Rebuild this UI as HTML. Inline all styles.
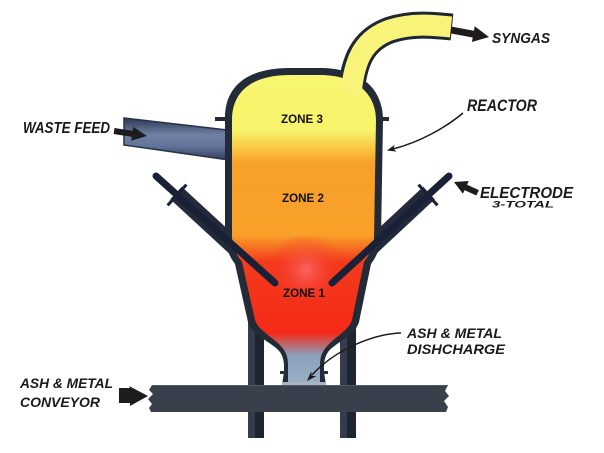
<!DOCTYPE html>
<html>
<head>
<meta charset="utf-8">
<style>
  html,body{margin:0;padding:0;background:#ffffff;}
  svg{display:block;}
  .lbl{font-family:"Liberation Sans",sans-serif;font-weight:bold;font-style:italic;fill:#1a1a1a;}
  .zone{font-family:"Liberation Sans",sans-serif;font-weight:bold;fill:#111111;font-size:12px;}
</style>
</head>
<body>
<svg width="604" height="453" viewBox="0 0 604 453" xmlns="http://www.w3.org/2000/svg">
  <defs>
    <linearGradient id="fillG" gradientUnits="userSpaceOnUse" x1="0" y1="75" x2="0" y2="385">
      <stop offset="0" stop-color="#f8f66e"/>
      <stop offset="0.177" stop-color="#f8f46c"/>
      <stop offset="0.242" stop-color="#f9c23e"/>
      <stop offset="0.285" stop-color="#f7a02a"/>
      <stop offset="0.516" stop-color="#f8a028"/>
      <stop offset="0.603" stop-color="#f43a1c"/>
      <stop offset="0.832" stop-color="#f42a18"/>
      <stop offset="0.905" stop-color="#8aa0bb"/>
      <stop offset="1" stop-color="#9cb1c7"/>
    </linearGradient>
    <radialGradient id="glow" gradientUnits="userSpaceOnUse" cx="306" cy="270" r="38">
      <stop offset="0" stop-color="#f86a66" stop-opacity="0.9"/>
      <stop offset="1" stop-color="#f42a18" stop-opacity="0"/>
    </radialGradient>
    <linearGradient id="pipeG" x1="0" y1="0" x2="0" y2="1">
      <stop offset="0" stop-color="#2c3856"/>
      <stop offset="0.4" stop-color="#7282a4"/>
      <stop offset="0.65" stop-color="#63739a"/>
      <stop offset="1" stop-color="#2f3b58"/>
    </linearGradient>
  </defs>

  <!-- legs -->
  <rect x="248" y="300" width="16" height="138" fill="#1f2431"/>
  <rect x="248" y="300" width="7" height="138" fill="#353c4c"/>
  <rect x="340" y="300" width="16" height="138" fill="#1f2431"/>
  <rect x="340" y="300" width="7" height="138" fill="#353c4c"/>

  <!-- waste feed pipe -->
  <polygon points="124,118 236,131 236,161 124,145" fill="url(#pipeG)" stroke="#26304a" stroke-width="1.5"/>

  <!-- electrode arm bands -->
  <line x1="176" y1="193" x2="252" y2="263" stroke="#232a3b" stroke-width="17"/>
  <line x1="429" y1="193" x2="354" y2="263" stroke="#232a3b" stroke-width="17"/>

  <!-- syngas pipe outline -->
  <path d="M 351 92 C 354 62, 362 40, 390 30 C 412 23, 432 25, 452 27" fill="none" stroke="#1f2634" stroke-width="27"/>

  <!-- reactor outer shell -->
  <path d="M 225 120 C 224 88, 245 68, 290 68 L 320 68 C 360 68, 383 88, 383 120 L 381 238 Q 380 252, 371 264 L 359 322 C 355 336, 336 342, 328 352 Q 324 358, 324 366 L 324 372 L 326 385 L 282 385 L 284 372 L 284 366 Q 284 358, 280 352 C 272 342, 252 336, 248 322 L 235 264 Q 226 252, 225 238 Z" fill="#232a38"/>
  <!-- flange ticks -->
  <rect x="215" y="117" width="12" height="4" fill="#232a38"/>
  <rect x="380" y="117" width="9" height="4" fill="#232a38"/>

  <!-- reactor inner fill -->
  <path d="M 232 120 C 232 93, 250 75, 290 75 L 320 75 C 355 75, 376 93, 376 120 L 374 238 Q 373 250, 364 262 L 352 320 C 348 332, 332 338, 324 350 Q 320 356, 320 364 L 320 385 L 288 385 L 288 364 Q 288 356, 284 350 C 276 338, 259 332, 255 320 L 242 262 Q 233 250, 232 238 Z" fill="url(#fillG)"/>
  <ellipse cx="306" cy="270" rx="40" ry="34" fill="url(#glow)"/>

  <!-- syngas pipe fill -->
  <path d="M 351 94 C 354 62, 362 40, 390 30 C 412 23, 432 25, 451 27" fill="none" stroke="#f8f47a" stroke-width="21"/>

  <!-- neck flange -->
  <rect x="280" y="371" width="6" height="3" fill="#2a3242"/>
  <rect x="322" y="371" width="6" height="3" fill="#2a3242"/>
  <rect x="282" y="382" width="44" height="3" fill="#aab5c3"/>

  <!-- electrodes -->
  <line x1="156" y1="176" x2="275" y2="283" stroke="#1a2136" stroke-width="7" stroke-linecap="round"/>
  <line x1="449" y1="176" x2="332" y2="283" stroke="#1a2136" stroke-width="7" stroke-linecap="round"/>
  <line x1="167.6" y1="205.4" x2="186.4" y2="184.6" stroke="#1a2136" stroke-width="3"/>
  <line x1="437.5" y1="205.3" x2="418.5" y2="184.7" stroke="#1a2136" stroke-width="3"/>

  <!-- conveyor -->
  <polygon points="152,385 448,385 445,391 449,396 444,401 448,407 446,412 151,412 149,408 152,404 148,399 153,394 149,390" fill="#393f4b"/>
  <line x1="152" y1="385.5" x2="448" y2="385.5" stroke="#515867" stroke-width="1"/>

  <!-- zone labels -->
  <text class="zone" x="302" y="123" text-anchor="middle" textLength="42" lengthAdjust="spacingAndGlyphs">ZONE 3</text>
  <text class="zone" x="303" y="202" text-anchor="middle" textLength="42" lengthAdjust="spacingAndGlyphs">ZONE 2</text>
  <text class="zone" x="304" y="297" text-anchor="middle" textLength="42" lengthAdjust="spacingAndGlyphs">ZONE 1</text>

  <!-- arrows -->
  <polygon points="489,37 474.7,26.2 473.9,30.7 451.6,26.6 450.4,33.4 472.7,37.5 471.9,42" fill="#1e1b1c"/>
  <polygon points="147,136 133.2,126.9 132.6,130.8 114.5,128 113.6,134 131.7,136.8 131.2,140.7" fill="#1e1b1c"/>
  <polygon points="454,182 468.7,181 467.1,184.7 478.9,190.1 476.3,195.5 464.6,190.1 462.9,193.8" fill="#1e1b1c"/>
  <polygon points="119,388 130,388 129,386 148,396 130,406 130,403 119,403" fill="#1e1b1c"/>

  <path d="M 463 113 C 445 128, 420 142, 393 149" fill="none" stroke="#1a1a1a" stroke-width="1.5"/>
  <polygon points="387,150.5 394.8,144.8 393.3,148.9 396.6,151.6" fill="#1a1a1a"/>

  <path d="M 401 333 C 372 334, 335 350, 312 375" fill="none" stroke="#1a1a1a" stroke-width="1.5"/>
  <polygon points="307,381 311.2,371.3 311.7,375.9 316.4,376.1" fill="#1a1a1a"/>

  <!-- labels -->
  <text class="lbl" x="492" y="43" font-size="15" textLength="58" lengthAdjust="spacingAndGlyphs">SYNGAS</text>
  <text class="lbl" x="467" y="111" font-size="16.5" textLength="70" lengthAdjust="spacingAndGlyphs">REACTOR</text>
  <text class="lbl" x="23" y="133" font-size="16" textLength="87" lengthAdjust="spacingAndGlyphs">WASTE FEED</text>
  <text class="lbl" x="480" y="198" font-size="16" textLength="93" lengthAdjust="spacingAndGlyphs">ELECTRODE</text>
  <text class="lbl" x="492" y="207.5" font-size="9.5" textLength="62" lengthAdjust="spacingAndGlyphs">3-TOTAL</text>
  <text class="lbl" x="20" y="388" font-size="14" textLength="93" lengthAdjust="spacingAndGlyphs">ASH &amp; METAL</text>
  <text class="lbl" x="20" y="407" font-size="14" textLength="80" lengthAdjust="spacingAndGlyphs">CONVEYOR</text>
  <text class="lbl" x="407" y="338" font-size="14" textLength="95" lengthAdjust="spacingAndGlyphs">ASH &amp; METAL</text>
  <text class="lbl" x="407" y="354" font-size="14" textLength="98" lengthAdjust="spacingAndGlyphs">DISHCHARGE</text>
</svg>
</body>
</html>
